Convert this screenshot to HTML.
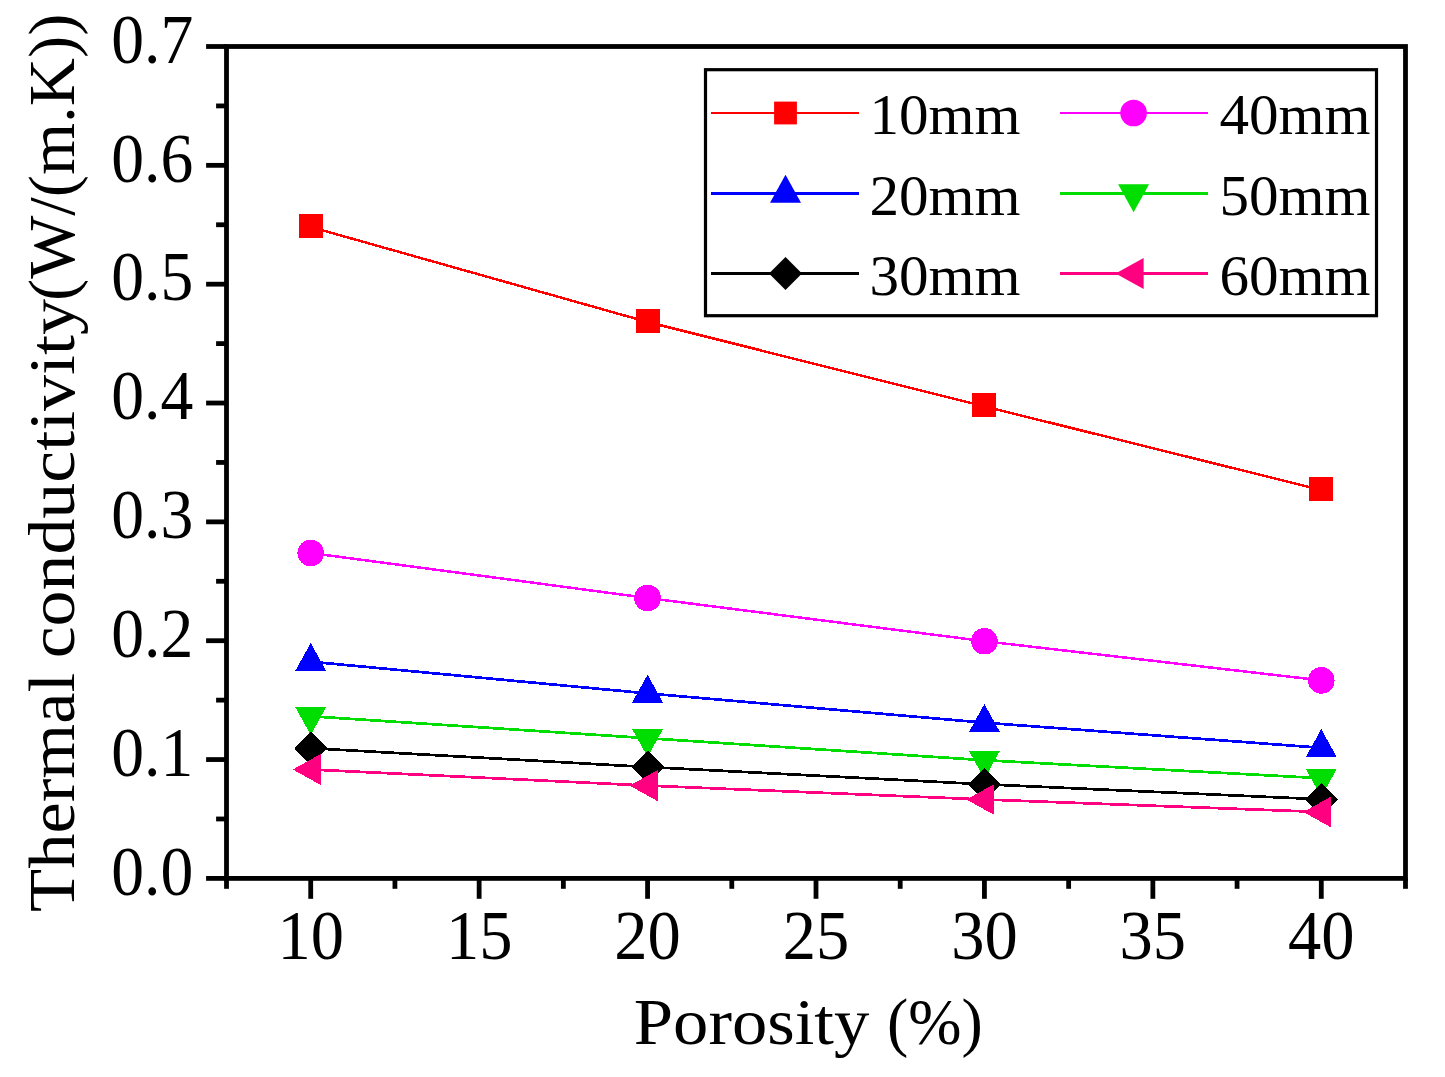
<!DOCTYPE html>
<html><head><meta charset="utf-8"><style>
html,body{margin:0;padding:0;background:#fff;width:1445px;height:1077px;overflow:hidden;}
svg{display:block;font-family:"Liberation Serif",serif;}
</style></head><body>
<svg width="1445" height="1077" viewBox="0 0 1445 1077">
<rect width="100%" height="100%" fill="#fff"/>
<g shape-rendering="crispEdges">
<polyline points="310.71,227.00 647.57,322.00 984.43,406.40 1321.29,490.00" fill="none" stroke="#ff0000" stroke-width="2.5" stroke-linejoin="round"/>
<rect x="298.71" y="214.00" width="24.00" height="24.00" fill="#ff0000"/>
<rect x="635.57" y="309.00" width="24.00" height="24.00" fill="#ff0000"/>
<rect x="972.43" y="393.40" width="24.00" height="24.00" fill="#ff0000"/>
<rect x="1309.29" y="477.00" width="24.00" height="24.00" fill="#ff0000"/>
<polyline points="310.71,553.00 647.57,598.00 984.43,641.20 1321.29,680.40" fill="none" stroke="#ff00ff" stroke-width="2.5" stroke-linejoin="round"/>
<circle cx="310.71" cy="553.00" r="13.30" fill="#ff00ff"/>
<circle cx="647.57" cy="598.00" r="13.30" fill="#ff00ff"/>
<circle cx="984.43" cy="641.20" r="13.30" fill="#ff00ff"/>
<circle cx="1321.29" cy="680.40" r="13.30" fill="#ff00ff"/>
<polyline points="310.71,661.70 647.57,693.40 984.43,722.70 1321.29,747.80" fill="none" stroke="#0000ff" stroke-width="2.7" stroke-linejoin="round"/>
<polygon points="310.71,643.00 326.21,671.00 295.21,671.00" fill="#0000ff"/>
<polygon points="647.57,674.70 663.07,702.70 632.07,702.70" fill="#0000ff"/>
<polygon points="984.43,704.00 999.93,732.00 968.93,732.00" fill="#0000ff"/>
<polygon points="1321.29,729.10 1336.79,757.10 1305.79,757.10" fill="#0000ff"/>
<polyline points="310.71,716.30 647.57,738.20 984.43,760.20 1321.29,778.20" fill="none" stroke="#00dd00" stroke-width="2.7" stroke-linejoin="round"/>
<polygon points="310.71,735.00 326.21,707.00 295.21,707.00" fill="#00dd00"/>
<polygon points="647.57,756.90 663.07,728.90 632.07,728.90" fill="#00dd00"/>
<polygon points="984.43,778.90 999.93,750.90 968.93,750.90" fill="#00dd00"/>
<polygon points="1321.29,796.90 1336.79,768.90 1305.79,768.90" fill="#00dd00"/>
<polyline points="310.71,748.20 647.57,767.00 984.43,784.30 1321.29,799.30" fill="none" stroke="#000000" stroke-width="2.7" stroke-linejoin="round"/>
<polygon points="310.71,731.70 327.21,748.20 310.71,764.70 294.21,748.20" fill="#000000"/>
<polygon points="647.57,750.50 664.07,767.00 647.57,783.50 631.07,767.00" fill="#000000"/>
<polygon points="984.43,767.80 1000.93,784.30 984.43,800.80 967.93,784.30" fill="#000000"/>
<polygon points="1321.29,782.80 1337.79,799.30 1321.29,815.80 1304.79,799.30" fill="#000000"/>
<polyline points="310.71,769.50 647.57,785.60 984.43,799.50 1321.29,812.00" fill="none" stroke="#ff0080" stroke-width="2.7" stroke-linejoin="round"/>
<polygon points="292.71,769.50 320.71,754.00 320.71,785.00" fill="#ff0080"/>
<polygon points="629.57,785.60 657.57,770.10 657.57,801.10" fill="#ff0080"/>
<polygon points="966.43,799.50 994.43,784.00 994.43,815.00" fill="#ff0080"/>
<polygon points="1303.29,812.00 1331.29,796.50 1331.29,827.50" fill="#ff0080"/>
</g>
<g stroke="#000" stroke-width="4.8" fill="none">
<rect x="226.5" y="46.5" width="1179.0" height="831.9" stroke-linejoin="miter"/>
<line x1="206.10" y1="878.40" x2="226.50" y2="878.40"/>
<line x1="216.10" y1="818.98" x2="226.50" y2="818.98"/>
<line x1="206.10" y1="759.56" x2="226.50" y2="759.56"/>
<line x1="216.10" y1="700.14" x2="226.50" y2="700.14"/>
<line x1="206.10" y1="640.71" x2="226.50" y2="640.71"/>
<line x1="216.10" y1="581.29" x2="226.50" y2="581.29"/>
<line x1="206.10" y1="521.87" x2="226.50" y2="521.87"/>
<line x1="216.10" y1="462.45" x2="226.50" y2="462.45"/>
<line x1="206.10" y1="403.03" x2="226.50" y2="403.03"/>
<line x1="216.10" y1="343.61" x2="226.50" y2="343.61"/>
<line x1="206.10" y1="284.19" x2="226.50" y2="284.19"/>
<line x1="216.10" y1="224.76" x2="226.50" y2="224.76"/>
<line x1="206.10" y1="165.34" x2="226.50" y2="165.34"/>
<line x1="216.10" y1="105.92" x2="226.50" y2="105.92"/>
<line x1="206.10" y1="46.50" x2="226.50" y2="46.50"/>
<line x1="226.50" y1="878.40" x2="226.50" y2="888.80"/>
<line x1="310.71" y1="878.40" x2="310.71" y2="898.80"/>
<line x1="394.93" y1="878.40" x2="394.93" y2="888.80"/>
<line x1="479.14" y1="878.40" x2="479.14" y2="898.80"/>
<line x1="563.36" y1="878.40" x2="563.36" y2="888.80"/>
<line x1="647.57" y1="878.40" x2="647.57" y2="898.80"/>
<line x1="731.79" y1="878.40" x2="731.79" y2="888.80"/>
<line x1="816.00" y1="878.40" x2="816.00" y2="898.80"/>
<line x1="900.21" y1="878.40" x2="900.21" y2="888.80"/>
<line x1="984.43" y1="878.40" x2="984.43" y2="898.80"/>
<line x1="1068.64" y1="878.40" x2="1068.64" y2="888.80"/>
<line x1="1152.86" y1="878.40" x2="1152.86" y2="898.80"/>
<line x1="1237.07" y1="878.40" x2="1237.07" y2="888.80"/>
<line x1="1321.29" y1="878.40" x2="1321.29" y2="898.80"/>
<line x1="1405.50" y1="878.40" x2="1405.50" y2="888.80"/>
</g>
<g font-family="Liberation Serif" font-size="69" fill="#000">
<text x="193.3" y="894.70" text-anchor="end" textLength="82" lengthAdjust="spacingAndGlyphs">0.0</text>
<text x="193.3" y="775.86" text-anchor="end" textLength="82" lengthAdjust="spacingAndGlyphs">0.1</text>
<text x="193.3" y="657.01" text-anchor="end" textLength="82" lengthAdjust="spacingAndGlyphs">0.2</text>
<text x="193.3" y="538.17" text-anchor="end" textLength="82" lengthAdjust="spacingAndGlyphs">0.3</text>
<text x="193.3" y="419.33" text-anchor="end" textLength="82" lengthAdjust="spacingAndGlyphs">0.4</text>
<text x="193.3" y="300.49" text-anchor="end" textLength="82" lengthAdjust="spacingAndGlyphs">0.5</text>
<text x="193.3" y="181.64" text-anchor="end" textLength="82" lengthAdjust="spacingAndGlyphs">0.6</text>
<text x="193.3" y="62.80" text-anchor="end" textLength="82" lengthAdjust="spacingAndGlyphs">0.7</text>
<text x="310.71" y="958.5" text-anchor="middle" textLength="66.5" lengthAdjust="spacingAndGlyphs">10</text>
<text x="479.14" y="958.5" text-anchor="middle" textLength="66.5" lengthAdjust="spacingAndGlyphs">15</text>
<text x="647.57" y="958.5" text-anchor="middle" textLength="66.5" lengthAdjust="spacingAndGlyphs">20</text>
<text x="816.00" y="958.5" text-anchor="middle" textLength="66.5" lengthAdjust="spacingAndGlyphs">25</text>
<text x="984.43" y="958.5" text-anchor="middle" textLength="66.5" lengthAdjust="spacingAndGlyphs">30</text>
<text x="1152.86" y="958.5" text-anchor="middle" textLength="66.5" lengthAdjust="spacingAndGlyphs">35</text>
<text x="1321.29" y="958.5" text-anchor="middle" textLength="66.5" lengthAdjust="spacingAndGlyphs">40</text>
</g>
<g font-family="Liberation Serif" font-size="66"><text x="633.8" y="1043.7" textLength="235.5" lengthAdjust="spacingAndGlyphs">Porosity</text><text x="887.1" y="1043.7" textLength="95.75" lengthAdjust="spacingAndGlyphs">(%)</text></g>
<g font-family="Liberation Serif" font-size="66"><text transform="translate(74,911.9) rotate(-90)" textLength="239.0" lengthAdjust="spacingAndGlyphs">Thermal</text><text transform="translate(74,658.3) rotate(-90)" textLength="359.2" lengthAdjust="spacingAndGlyphs">conductivity</text><text transform="translate(74,301) rotate(-90)" textLength="287.4" lengthAdjust="spacingAndGlyphs">(W/(m.K))</text></g>
<rect x="705.5" y="69.7" width="671.0" height="246.0" fill="#fff" stroke="#000" stroke-width="3.2"/>
<line x1="711" y1="113.0" x2="859" y2="113.0" stroke="#ff0000" stroke-width="2" shape-rendering="crispEdges"/>
<rect x="774.10" y="101.60" width="22.80" height="22.80" fill="#ff0000"/>
<line x1="711" y1="193.5" x2="859" y2="193.5" stroke="#0000ff" stroke-width="3" shape-rendering="crispEdges"/>
<polygon points="785.50,174.80 801.00,202.80 770.00,202.80" fill="#0000ff"/>
<line x1="711" y1="273.5" x2="859" y2="273.5" stroke="#000000" stroke-width="3" shape-rendering="crispEdges"/>
<polygon points="785.50,257.00 802.00,273.50 785.50,290.00 769.00,273.50" fill="#000000"/>
<line x1="1059.7" y1="113.0" x2="1207.8" y2="113.0" stroke="#ff00ff" stroke-width="2" shape-rendering="crispEdges"/>
<circle cx="1133.60" cy="113.00" r="13.30" fill="#ff00ff"/>
<line x1="1059.7" y1="193.5" x2="1207.8" y2="193.5" stroke="#00dd00" stroke-width="3" shape-rendering="crispEdges"/>
<polygon points="1133.60,212.20 1149.10,184.20 1118.10,184.20" fill="#00dd00"/>
<line x1="1059.7" y1="273.5" x2="1207.8" y2="273.5" stroke="#ff0080" stroke-width="3" shape-rendering="crispEdges"/>
<polygon points="1115.60,273.50 1143.60,258.00 1143.60,289.00" fill="#ff0080"/>
<text x="869.5" y="134.0" font-family="Liberation Serif" font-size="56.5" textLength="151" lengthAdjust="spacingAndGlyphs">10mm</text>
<text x="869.5" y="214.5" font-family="Liberation Serif" font-size="56.5" textLength="151" lengthAdjust="spacingAndGlyphs">20mm</text>
<text x="869.5" y="294.5" font-family="Liberation Serif" font-size="56.5" textLength="151" lengthAdjust="spacingAndGlyphs">30mm</text>
<text x="1219.5" y="134.0" font-family="Liberation Serif" font-size="56.5" textLength="151" lengthAdjust="spacingAndGlyphs">40mm</text>
<text x="1219.5" y="214.5" font-family="Liberation Serif" font-size="56.5" textLength="151" lengthAdjust="spacingAndGlyphs">50mm</text>
<text x="1219.5" y="294.5" font-family="Liberation Serif" font-size="56.5" textLength="151" lengthAdjust="spacingAndGlyphs">60mm</text>
</svg>
</body></html>
